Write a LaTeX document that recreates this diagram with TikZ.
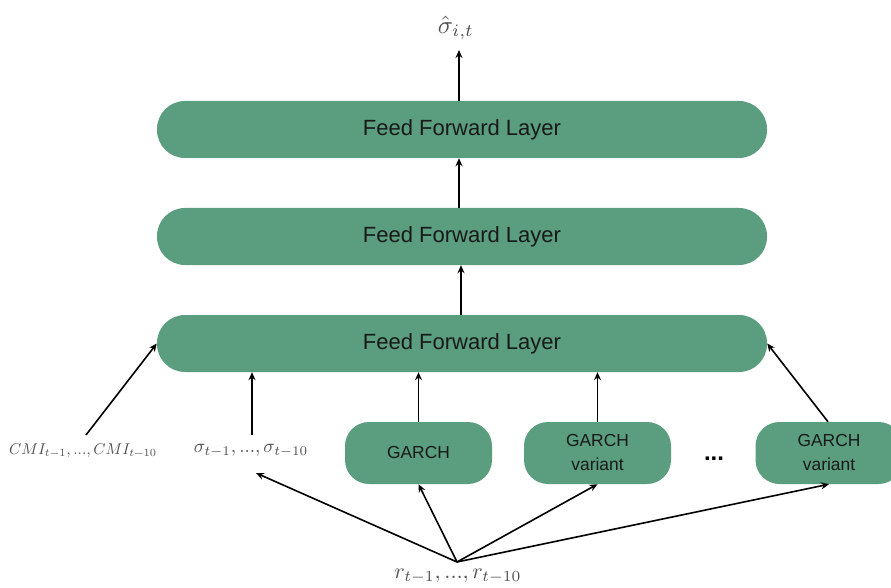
\documentclass[tikz,border=0pt]{standalone}
\usepackage{fontspec}
\setmainfont{Liberation Sans}
\usepackage{amsmath}
\usepackage{graphicx}
\usetikzlibrary{arrows.meta}
\definecolor{boxgreen}{HTML}{5A9D7F}
\definecolor{labgray}{HTML}{505050}
\begin{document}
\begin{tikzpicture}[x=1pt,y=-1pt,
  ffbox/.style={fill=boxgreen,draw=none,rounded corners=28pt,minimum width=610pt,minimum height=57pt,inner sep=0pt,font=\fontsize{22}{26}\selectfont,text=black!90},
  gbox/.style={fill=boxgreen,draw=none,rounded corners=24pt,minimum width=147pt,minimum height=62pt,inner sep=0pt,align=center,font=\fontsize{17.4}{24}\selectfont,text=black!90},
  mlab/.style={text=labgray,inner sep=2pt},
  arr/.style={-{Stealth[length=8pt,width=7pt]},line width=1.6pt,black}]
\useasboundingbox (0,0) rectangle (891,588);
\begin{scope}
\clip (0,0) rectangle (891,588);
\node[ffbox] (ff1) at (462,129.5) {Feed Forward Layer};
\node[ffbox] (ff2) at (462,236.5) {Feed Forward Layer};
\node[ffbox] (ff3) at (462,343.5) {Feed Forward Layer};
\node[gbox] (g0) at (418.5,453) {GARCH};
\node[gbox] (g1) at (597.5,453) {GARCH\\variant};
\node[gbox] (g2) at (829,453) {GARCH\\variant};
\end{scope}
\node (dots) at (714,459) {\fontsize{24}{28}\selectfont\bfseries ...};
\node[mlab] (sh) at (456,28) {\scalebox{2.5}{$\hat{\sigma}_{i,t}$}};
\node[mlab] (cmi) at (83,451) {\scalebox{1.56}{$CMI_{t-1}, ..., CMI_{t-10}$}};
\node[mlab] (sig) at (251,451) {\scalebox{1.9}{$\sigma_{t-1}, ..., \sigma_{t-10}$}};
\node[mlab] (r) at (458,576) {\scalebox{2.2}{$r_{t-1}, ..., r_{t-10}$}};
\coordinate (top) at (459,50);
\coordinate (rorg) at (457,562);
\coordinate (sigtop) at (252,435);
\coordinate (sigbot) at (256,473);
\coordinate (cmitop) at (86,435);
\draw[arr] (ff1.north -| top) -- (top);
\draw[arr] ([xshift=-3pt]ff2.north) -- ([xshift=-3pt]ff1.south);
\draw[arr] ([xshift=-1pt]ff3.north) -- ([xshift=-1pt]ff2.south);
\draw[arr] (cmitop) -- (ff3.west);
\draw[arr] (sigtop) -- (sigtop |- ff3.south);
\draw[arr] (g0.north) -- (g0.north |- ff3.south);
\draw[arr] (g1.north) -- (g1.north |- ff3.south);
\draw[arr] ([xshift=-1pt]g2.north) -- (ff3.east);
\draw[arr] (rorg) -- (sigbot);
\draw[arr] (rorg) -- (g0.south);
\draw[arr] (rorg) -- (g1.south);
\draw[arr] (rorg) -- (g2.south);
\end{tikzpicture}
\end{document}
